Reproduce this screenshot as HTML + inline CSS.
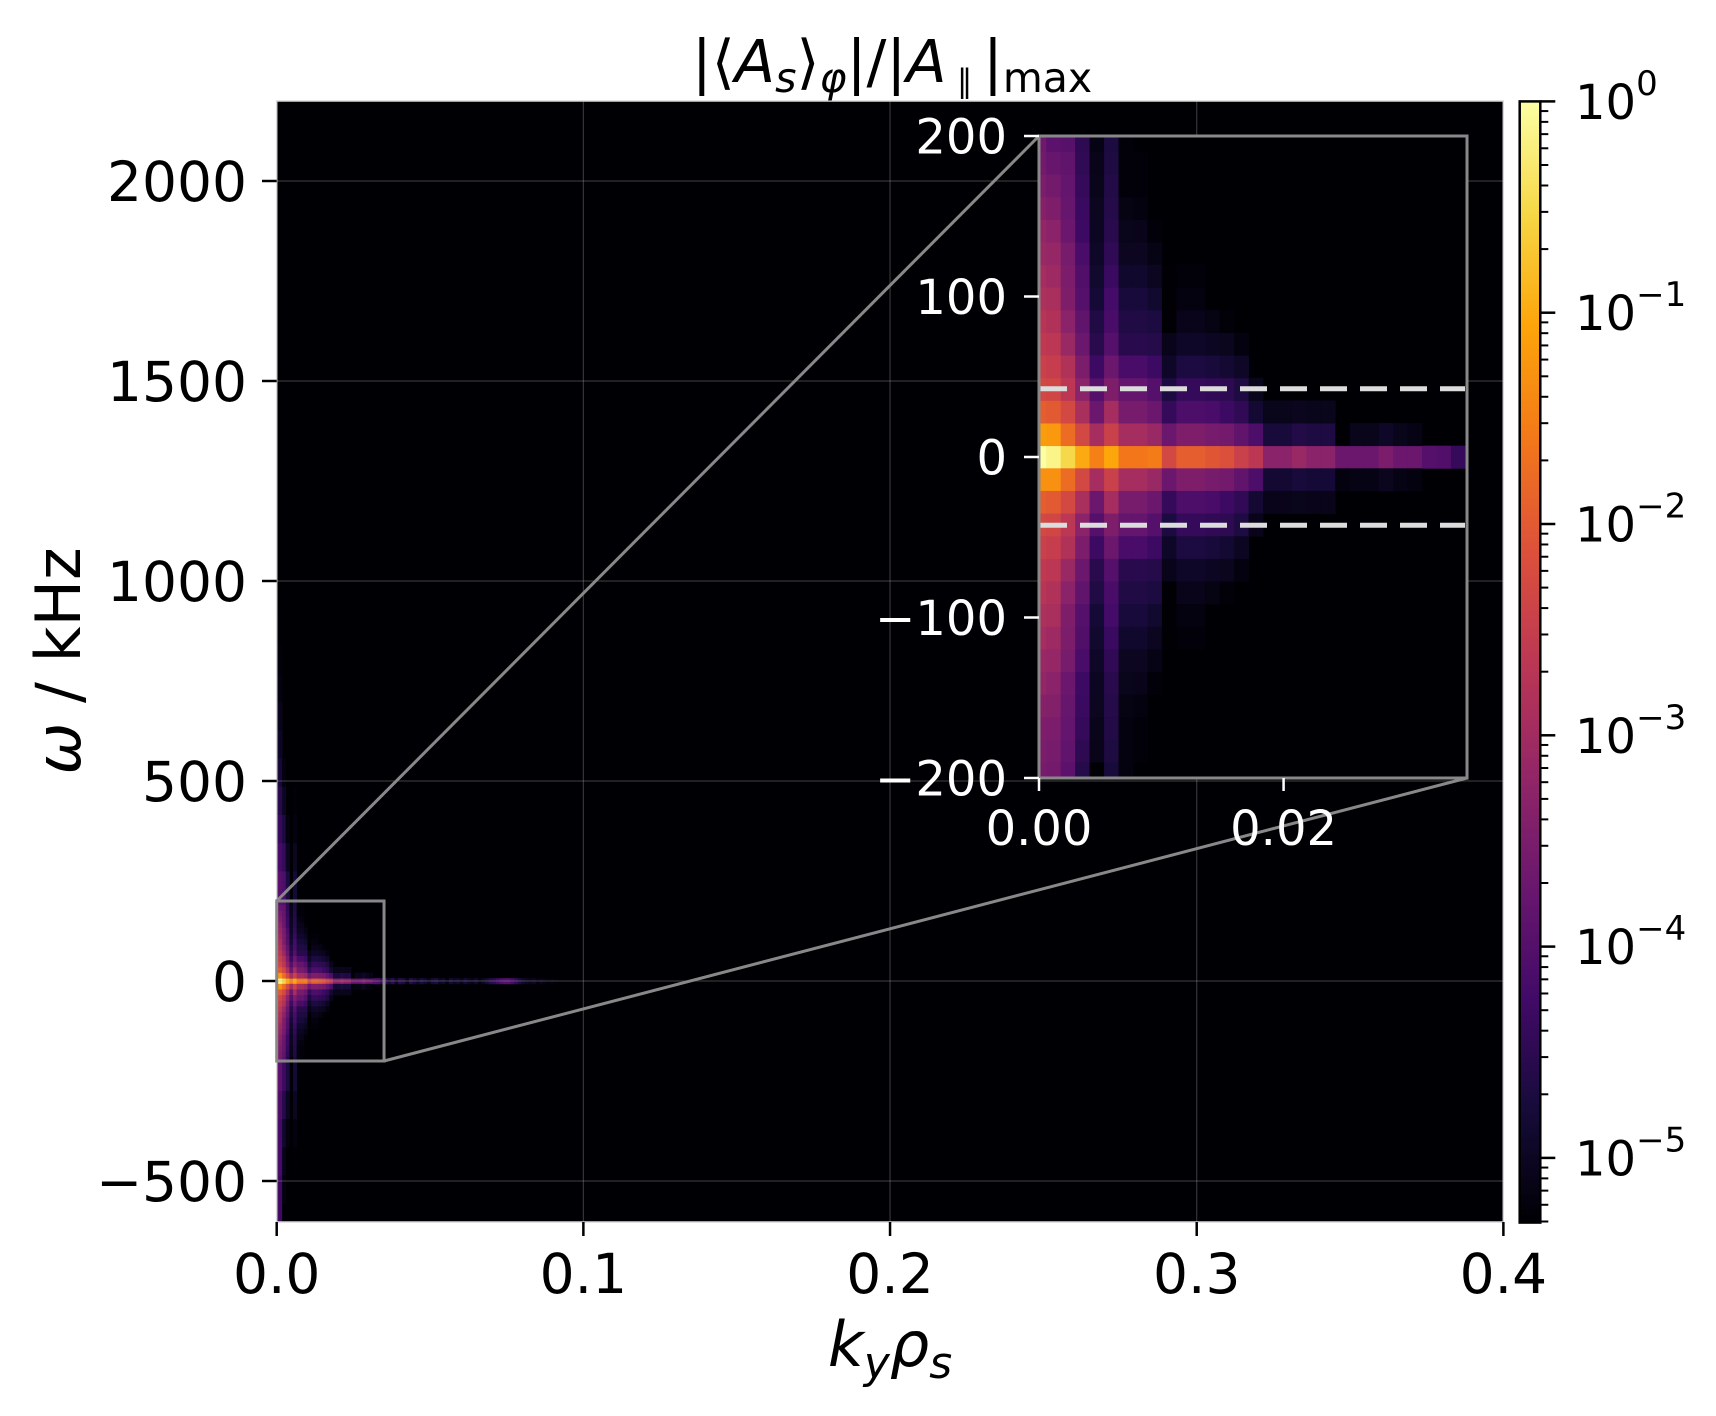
<!DOCTYPE html>
<html><head><meta charset="utf-8"><style>
html,body{margin:0;padding:0;background:#fff;}
svg{display:block;font-family:"DejaVu Sans","Liberation Sans",sans-serif;}
</style></head><body>
<svg id="fig" width="1716" height="1416" viewBox="0 0 1716 1416" xmlns="http://www.w3.org/2000/svg">
<defs>
<clipPath id="mainClip"><rect x="276.7" y="101" width="1226.6" height="1121"/></clipPath>
<clipPath id="insetClip"><rect x="1039" y="136" width="428" height="642"/></clipPath>
<linearGradient id="cbGrad" x1="0" y1="1" x2="0" y2="0">
<stop offset="0" stop-color="#000004"/><stop offset="0.1" stop-color="#160b39"/><stop offset="0.2" stop-color="#420a68"/><stop offset="0.3" stop-color="#6a176e"/><stop offset="0.4" stop-color="#932667"/><stop offset="0.5" stop-color="#bc3754"/><stop offset="0.6" stop-color="#dd513a"/><stop offset="0.7" stop-color="#f37819"/><stop offset="0.8" stop-color="#fca50a"/><stop offset="0.9" stop-color="#f6d746"/><stop offset="1" stop-color="#fcffa4"/>
</linearGradient>
</defs>
<rect x="276.7" y="101" width="1226.6" height="1121" fill="#000004"/>
<g id="mainCells" clip-path="url(#mainClip)"></g>
<g id="mainGrid"></g>
<rect x="276.7" y="101" width="1226.6" height="1121" fill="none" stroke="#d8d8d8" stroke-width="1.5"/>
<g id="mainTicks"></g>
<g id="zoomMarks"></g>
<rect x="1039" y="136" width="428" height="642" fill="#000004"/>
<g id="insetCells" clip-path="url(#insetClip)"></g>
<g id="insetDecor"></g>
<g id="colorbar"></g>
<text x="892" y="82" font-size="59" text-anchor="middle">|⟨<tspan font-style="italic">A</tspan><tspan font-style="italic" font-size="41" dy="10">s</tspan><tspan dy="-10">⟩</tspan><tspan font-style="italic" font-size="41" dy="10">φ</tspan><tspan dy="-10">|/|</tspan><tspan font-style="italic">A</tspan><tspan font-size="32" dy="10"> ∥ </tspan><tspan dy="-10">|</tspan><tspan font-size="41" dy="10">max</tspan></text>
<text x="890" y="1366" font-size="62" text-anchor="middle"><tspan font-style="italic">k</tspan><tspan font-style="italic" font-size="44" dy="12">y</tspan><tspan font-style="italic" dy="-12">ρ</tspan><tspan font-style="italic" font-size="44" dy="12">s</tspan></text>
<text x="0" y="0" font-size="62" text-anchor="middle" transform="translate(80,661) rotate(-90)"><tspan font-style="italic">ω</tspan> / kHz</text>
</svg>
<script>
// ---- data (log10 of normalised amplitude) ----
const kyStep = 0.001182;
const omegaStep = 14.1;
const vMinLog = -5.306;
const centerRow = [0,-0.15,-0.5,-1.0,-1.5,-1.05,-1.6,-1.6,-1.55,-2.3,-1.95,-1.95,-2.05,-2.15,-2.45,-2.65,-3.3,-3.3,-3.1,-3.3,-3.3,-3.7,-3.7,-3.7,-3.5,-3.7,-3.7,-4.0,-4.05,-4.4,
 -4.4,-4.8,-4.5,-5.0,-4.6,-4.7,-5.1,-4.6,-4.8,-5.0,-4.7,-4.9,-5.1,-4.8,-4.7,-5.0,-4.9,-5.2,-4.8,-5.0,-4.9,-5.1,-4.8,-5.0,-5.1,-4.9,-5.2,-5.0,-4.8,-4.6,-4.5,-4.3,-4.1,-4.0,-4.0,-4.2,-4.4,-4.7,-4.9,-5.0,-5.1,-5.0,-5.2,-5.1,-5.2,-5.25,-5.2,-5.25];
const upperRows = [
 [-1.15,-1.2,-1.75,-2.3,-2.95,-2.45,-2.95,-2.95,-3.1,-3.7,-3.45,-3.45,-3.55,-3.6,-3.85,-4.1,-4.75,-4.75,-4.62,-4.68,-4.68,-5.3,-5.08,-5.08,-4.95,-5.08,-5.15],
 [-1.95,-2.0,-2.3,-2.9,-3.7,-2.95,-3.55,-3.55,-3.7,-4.4,-4.1,-4.1,-4.15,-4.3,-4.45,-4.85,-5.08,-5.08,-5.05,-5.08,-5.08],
 [-2.3,-2.35,-2.65,-3.3,-4.0,-3.45,-3.8,-3.8,-4.0,-4.7,-4.4,-4.4,-4.45,-4.5,-4.68,-5.08],
 [-2.45,-2.5,-2.8,-3.5,-4.3,-3.7,-4.15,-4.15,-4.3,-4.95,-4.7,-4.7,-4.75,-4.85,-4.97],
 [-2.6,-2.65,-3.1,-3.7,-4.55,-4.0,-4.55,-4.55,-4.6,-5.1,-4.95,-4.95,-5.0,-5.05,-5.2],
 [-2.7,-2.8,-3.3,-3.85,-4.65,-4.15,-4.65,-4.65,-4.7,-5.3,-5.1,-5.1,-5.17,-5.25],
 [-2.85,-2.9,-3.45,-4.0,-4.8,-4.2,-4.75,-4.75,-4.88,-5.3,-5.2,-5.2],
 [-2.95,-3.05,-3.5,-4.05,-4.88,-4.35,-4.9,-4.9,-5.02,-5.3,-5.25,-5.25],
 [-3.1,-3.15,-3.55,-4.15,-4.95,-4.45,-5.02,-5.02,-5.15],
 [-3.2,-3.3,-3.7,-4.3,-5.0,-4.55,-5.08,-5.1,-5.25],
 [-3.35,-3.45,-3.75,-4.35,-5.02,-4.6,-5.17,-5.2],
 [-3.5,-3.6,-3.8,-4.4,-5.08,-4.62,-5.25,-5.25],
 [-3.6,-3.75,-3.85,-4.45,-5.1,-4.68,-5.25,-5.25],
 [-3.65,-3.9,-3.95,-4.5,-5.15,-4.7,-5.25]
];
const lowerRows = [
 [-1.3,-1.3,-1.75,-2.3,-2.95,-2.45,-2.95,-2.95,-3.1,-3.7,-3.45,-3.45,-3.55,-3.6,-3.85,-4.1,-4.85,-4.85,-4.75,-4.8,-4.8,-5.2,-5.15,-5.15,-5.05,-5.15,-5.2],
 [-1.95,-2.0,-2.3,-2.9,-3.7,-2.95,-3.55,-3.55,-3.7,-4.4,-4.1,-4.1,-4.15,-4.3,-4.45,-4.85,-5.1,-5.1,-5.08,-5.1,-5.1],
 [-2.3,-2.35,-2.65,-3.3,-4.0,-3.45,-3.8,-3.8,-4.0,-4.7,-4.4,-4.4,-4.45,-4.5,-4.68,-5.1],
 [-2.45,-2.5,-2.8,-3.5,-4.3,-3.7,-4.15,-4.15,-4.3,-4.95,-4.7,-4.7,-4.75,-4.85,-5.0],
 [-2.6,-2.65,-3.1,-3.7,-4.55,-4.0,-4.55,-4.55,-4.6,-5.1,-4.95,-4.95,-5.0,-5.05,-5.2],
 [-2.7,-2.8,-3.3,-3.85,-4.65,-4.15,-4.65,-4.65,-4.7,-5.3,-5.1,-5.1,-5.17,-5.25],
 [-2.85,-2.9,-3.45,-4.0,-4.8,-4.2,-4.75,-4.75,-4.88,-5.3,-5.2,-5.2],
 [-2.95,-3.05,-3.5,-4.05,-4.88,-4.35,-4.9,-4.9,-5.02,-5.3,-5.25,-5.25],
 [-3.1,-3.15,-3.55,-4.15,-4.95,-4.45,-5.02,-5.02,-5.15],
 [-3.2,-3.3,-3.7,-4.3,-5.0,-4.55,-5.08,-5.1,-5.25],
 [-3.35,-3.4,-3.75,-4.35,-5.02,-4.6,-5.17,-5.2],
 [-3.45,-3.5,-3.8,-4.4,-5.08,-4.62,-5.2,-5.25],
 [-3.5,-3.55,-3.85,-4.5,-5.1,-4.68,-5.2,-5.25],
 [-3.55,-3.6,-3.9,-4.6,-5.3,-4.75,-5.2]
];
// tails beyond |row| 14 : each entry covers a block of 5 rows
const upperTailCols = [0,1,2,3,5];
const upperTail = [
 [-3.8,-4.0,-4.2,-4.4,-4.6,-4.8,-5.0,-5.1,-5.2,-5.25],
 [-4.0,-4.2,-4.4,-4.6,-4.8,-5.0,-5.1,-5.2,-5.25],
 [-4.1,-4.4,-4.7,-5.0,-5.2],
 [-4.7,-5.0,-5.2],
 [-4.8,-5.0,-5.2,-5.25]
];
const lowerTailCols = [0,1,2,3,5];
const lowerTail = [
 [-3.8,-3.9,-4.0,-4.0,-4.0,-4.0],
 [-3.9,-4.1,-4.2,-4.2,-4.3,-4.3],
 [-4.3,-4.6,-4.9,-5.1,-5.2,-5.3],
 [-4.7,-5.0,-5.2,-5.3],
 [-4.8,-5.0,-5.2,-5.3]
];
const mainXTicks = [0.0,0.1,0.2,0.3,0.4];
const mainXTickLabels = ["0.0","0.1","0.2","0.3","0.4"];
const mainYTicks = [-500,0,500,1000,1500,2000];
const mainYTickLabels = ["\u2212500","0","500","1000","1500","2000"];
const insetXTicks = [0.0,0.02];
const insetXTickLabels = ["0.00","0.02"];
const insetYTicks = [-200,-100,0,100,200];
const insetYTickLabels = ["\u2212200","\u2212100","0","100","200"];
const thresholds = [-42.5,42.5];
const cbMajor = [0,-1,-2,-3,-4,-5];

// ---- axes ----
const NS = "http://www.w3.org/2000/svg";
const main = {x0:276.7, kx:3066.7, y0:981, wy:0.4, kMin:0, kMax:0.4, wMin:-600, wMax:2200};
const ins = {x0:1039, kx:12229, y0:457, wy:1.605, kMin:0, kMax:0.035, wMin:-200, wMax:200};
const mx = k => main.x0 + k*main.kx, my = w => main.y0 - w*main.wy;
const ix = k => ins.x0 + k*ins.kx, iy = w => ins.y0 - w*ins.wy;
const cbTop = 101.4, cbDec = 211.3, cbX = 1519.7, cbW = 20.6;
const cbY = v => cbTop - v*cbDec;

const infernoStops = ["#000004","#160b39","#420a68","#6a176e","#932667","#bc3754","#dd513a","#f37819","#fca50a","#f6d746","#fcffa4"];
function hex(c){return [1,3,5].map(i=>parseInt(c.substr(i,2),16));}
const stopRGB = infernoStops.map(hex);
function inferno(t){
  t=Math.max(0,Math.min(1,t));const s=t*10;const i=Math.min(9,Math.floor(s));const f=s-i;
  const a=stopRGB[i],b=stopRGB[i+1];
  return "rgb("+a.map((v,j)=>Math.round(v+(b[j]-v)*f)).join(",")+")";
}
const colorOf = v => inferno((v - vMinLog)/(0 - vMinLog));

function el(tag, attrs, parent){const e=document.createElementNS(NS,tag);for(const k in attrs)e.setAttribute(k,attrs[k]);parent.appendChild(e);return e;}

const cells = [];
centerRow.forEach((v,c)=>cells.push([c,0,v]));
upperRows.forEach((row,r)=>row.forEach((v,c)=>cells.push([c,r+1,v])));
lowerRows.forEach((row,r)=>row.forEach((v,c)=>cells.push([c,-(r+1),v])));
upperTail.forEach((blocks,i)=>blocks.forEach((v,b)=>{for(let q=0;q<5;q++)cells.push([upperTailCols[i],15+b*5+q,v]);}));
lowerTail.forEach((blocks,i)=>blocks.forEach((v,b)=>{for(let q=0;q<5;q++)cells.push([lowerTailCols[i],-(15+b*5+q),v]);}));

function drawCells(group, X, Y, ax){
  cells.forEach(([c,m,v])=>{
    if(v<=vMinLog+0.001) return;
    const k0=Math.max(0,(c-0.5)*kyStep), k1=(c+0.5)*kyStep;
    const w0=(m-0.5)*omegaStep, w1=(m+0.5)*omegaStep;
    if(k0>ax.kMax||w1<ax.wMin||w0>ax.wMax) return;
    const x=X(k0), y=Y(w1);
    const r=el("rect",{x:x.toFixed(2),y:y.toFixed(2),width:(X(k1)-x+0.4).toFixed(2),height:(Y(w0)-y+0.4).toFixed(2),fill:colorOf(v)},group);
    
    
  });
}
drawCells(document.getElementById("mainCells"), mx, my, main);
drawCells(document.getElementById("insetCells"), ix, iy, ins);

const grid=document.getElementById("mainGrid");
mainXTicks.forEach(k=>{const l=el("line",{x1:mx(k),x2:mx(k),y1:101,y2:1222,stroke:"#b0b0b0","stroke-opacity":0.3,"stroke-width":1.2},grid);});
mainYTicks.forEach(w=>{const l=el("line",{x1:276.7,x2:1503.3,y1:my(w),y2:my(w),stroke:"#b0b0b0","stroke-opacity":0.3,"stroke-width":1.2},grid);});

const mt=document.getElementById("mainTicks");
mainXTicks.forEach((k,i)=>{
  const l=el("line",{x1:mx(k),x2:mx(k),y1:1222,y2:1236,stroke:"#000","stroke-width":2.5},mt);
  
  const t=el("text",{x:mx(k),y:1293,"font-size":55,"text-anchor":"middle",fill:"#000"},mt);t.textContent=mainXTickLabels[i];
  
});
mainYTicks.forEach((w,i)=>{
  const l=el("line",{x1:262,x2:276.7,y1:my(w),y2:my(w),stroke:"#000","stroke-width":2.5},mt);
  
  const t=el("text",{x:247,y:my(w)+20,"font-size":55,"text-anchor":"end",fill:"#000"},mt);t.textContent=mainYTickLabels[i];
  
});

const zm=document.getElementById("zoomMarks");
const zr=el("rect",{x:mx(0),y:my(200),width:mx(ins.kMax)-mx(0),height:my(-200)-my(200),fill:"none",stroke:"#888","stroke-width":3},zm);

const c1=el("line",{x1:mx(0),y1:my(200),x2:ix(0),y2:iy(200),stroke:"#888","stroke-width":3},zm);

const c2=el("line",{x1:mx(ins.kMax),y1:my(-200),x2:ix(ins.kMax),y2:iy(-200),stroke:"#888","stroke-width":3},zm);


const idc=document.getElementById("insetDecor");
thresholds.forEach(w=>{const l=el("line",{x1:ix(0)+1,x2:ix(ins.kMax)-2,y1:iy(w),y2:iy(w),stroke:"#dcdcdc","stroke-width":5,"stroke-dasharray":"27 13"},idc);
  });
const ib=el("rect",{x:ix(0),y:iy(200),width:ix(ins.kMax)-ix(0),height:iy(-200)-iy(200),fill:"none",stroke:"#888","stroke-width":3},idc);

insetXTicks.forEach((k,i)=>{
  const l=el("line",{x1:ix(k),x2:ix(k),y1:iy(-200),y2:iy(-200)+13,stroke:"#fff","stroke-width":2.5},idc);
  
  const t=el("text",{x:ix(k),y:845,"font-size":48,"text-anchor":"middle",fill:"#fff"},idc);t.textContent=insetXTickLabels[i];
  
});
insetYTicks.forEach((w,i)=>{
  const l=el("line",{x1:ix(0)-15,x2:ix(0),y1:iy(w),y2:iy(w),stroke:"#fff","stroke-width":2.5},idc);
  
  const t=el("text",{x:ix(0)-32,y:iy(w)+17.5,"font-size":48,"text-anchor":"end",fill:"#fff"},idc);t.textContent=insetYTickLabels[i];
  
});

const cb=document.getElementById("colorbar");
const cbBottom=cbY(vMinLog);
const gr=el("rect",{x:cbX,y:cbTop,width:cbW,height:cbBottom-cbTop,fill:"url(#cbGrad)",stroke:"#000","stroke-width":2.5},cb);

cbMajor.forEach(v=>{
  const l=el("line",{x1:cbX+cbW,x2:cbX+cbW+15,y1:cbY(v),y2:cbY(v),stroke:"#000","stroke-width":2.5},cb);
  
  const t=el("text",{x:1575,y:cbY(v)+17.5,"font-size":48,fill:"#000"},cb);
  
  t.appendChild(document.createTextNode("10"));
  const s=el("tspan",{"font-size":34,dy:-24},t);s.textContent=(v===0?"0":"\u2212"+(-v));
  for(let m=2;m<=9;m++){const lv=v-1+Math.log10(m);if(lv<vMinLog)continue;
    const ml=el("line",{x1:cbX+cbW,x2:cbX+cbW+8,y1:cbY(lv),y2:cbY(lv),stroke:"#000","stroke-width":2},cb);
    }
});
</script>
</body></html>
